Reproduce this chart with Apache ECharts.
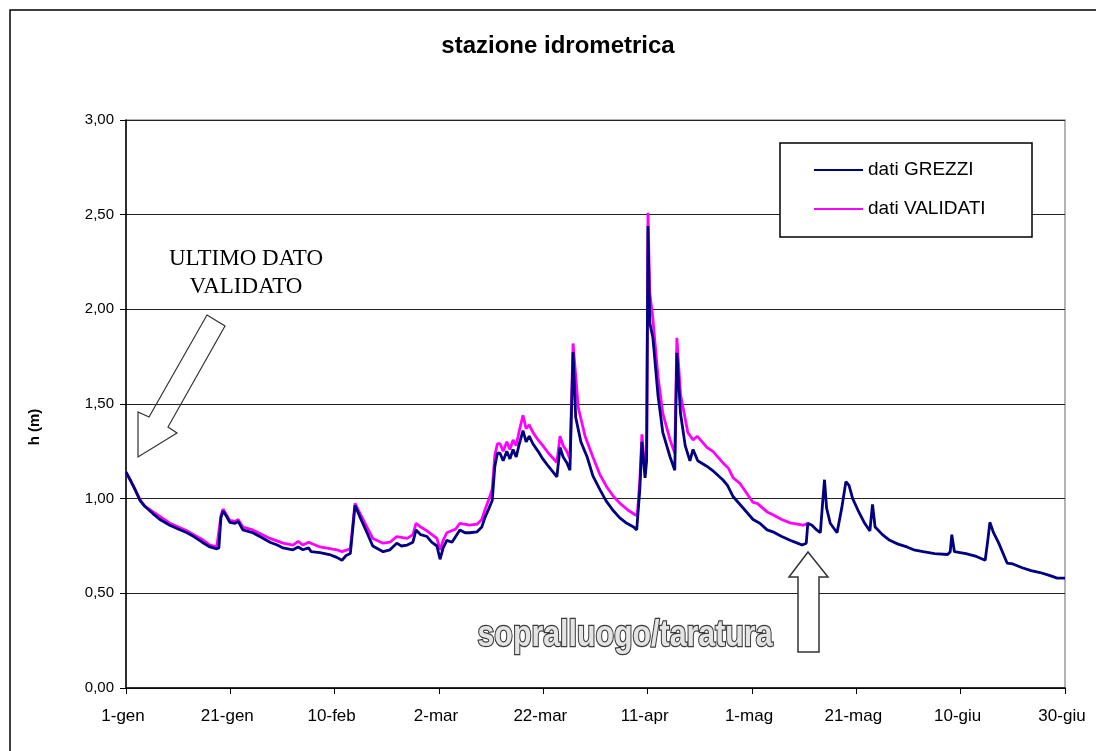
<!DOCTYPE html>
<html>
<head>
<meta charset="utf-8">
<script src="https://cdn.jsdelivr.net/npm/echarts@6/dist/echarts.min.js"></script>
<style>
html,body{margin:0;padding:0;background:#fff;}
#chart{width:1096px;height:751px;}
</style>
</head>
<body>
<div id="chart"></div>
<script>
// x: days since 1 January
var xTickLabels = ['1-gen','21-gen','10-feb','2-mar','22-mar','11-apr','1-mag','21-mag','10-giu','30-giu'];
var seriesNames = ['dati GREZZI','dati VALIDATI'];

var datiGrezzi = [
[0,1.14],[0.8,1.10],[1.7,1.05],[2.7,0.99],[3.6,0.96],[5.2,0.92],[6.5,0.89],[8.4,0.86],[10,0.84],[11.7,0.82],[13,0.80],[14.6,0.77],[16.1,0.745],[17.4,0.735],[17.8,0.74],[18.2,0.90],[18.6,0.935],[19.2,0.91],[19.9,0.875],[20.9,0.87],[21.5,0.88],[22.4,0.835],[24.3,0.82],[26,0.795],[27.6,0.77],[29,0.755],[30.1,0.74],[32,0.73],[33,0.745],[33.9,0.73],[35,0.74],[35.5,0.72],[37.2,0.715],[39,0.705],[40.4,0.69],[41.4,0.675],[42.2,0.70],[43,0.71],[43.5,0.85],[43.9,0.965],[44.9,0.90],[46.2,0.82],[47.3,0.75],[49.3,0.72],[50.6,0.73],[51.9,0.765],[52.8,0.75],[53.9,0.755],[55,0.77],[55.6,0.835],[56.5,0.81],[57.7,0.80],[58.6,0.77],[59.6,0.75],[60.2,0.68],[60.8,0.74],[61.5,0.78],[62.5,0.77],[63.2,0.80],[64,0.835],[65,0.82],[65.9,0.82],[67.3,0.825],[68.2,0.85],[68.8,0.90],[69.6,0.95],[70.2,0.99],[70.7,1.17],[71.2,1.24],[71.7,1.24],[72.3,1.20],[73,1.25],[73.6,1.21],[74.2,1.26],[74.8,1.22],[75.4,1.29],[76.1,1.36],[76.7,1.30],[77.3,1.33],[78,1.29],[79,1.25],[79.9,1.21],[81,1.17],[82.6,1.115],[83.2,1.27],[83.8,1.22],[84.5,1.19],[85.1,1.15],[85.7,1.775],[86.2,1.43],[87.2,1.30],[88.4,1.22],[89.5,1.12],[90.9,1.045],[92,0.99],[93.3,0.94],[94.6,0.90],[96,0.87],[97.3,0.85],[97.9,0.835],[98.5,1.05],[98.9,1.30],[99.5,1.11],[99.8,1.20],[100.06,2.44],[100.4,1.93],[101,1.85],[102,1.54],[102.9,1.35],[104.3,1.22],[105.2,1.15],[105.6,1.77],[106.3,1.45],[107.2,1.28],[108.1,1.20],[108.7,1.26],[109.6,1.20],[111.4,1.17],[112.4,1.15],[114.4,1.10],[115.3,1.07],[116.4,1.01],[118,0.96],[120.2,0.89],[121.5,0.87],[122.9,0.835],[124,0.825],[125.7,0.80],[127.3,0.78],[128.7,0.765],[129.6,0.755],[130.4,0.765],[130.7,0.87],[131.5,0.86],[132.4,0.835],[133.1,0.82],[133.6,1.00],[133.9,1.10],[134.3,0.95],[135,0.87],[136.3,0.82],[137.2,0.95],[138,1.09],[138.6,1.07],[139.3,1.00],[140.3,0.94],[141.6,0.87],[142.6,0.83],[143.1,0.97],[143.6,0.85],[145,0.81],[146.4,0.78],[148,0.76],[149.7,0.745],[151,0.73],[152.8,0.72],[155,0.71],[157.5,0.705],[158,0.72],[158.3,0.81],[158.8,0.72],[161,0.71],[163,0.695],[164.7,0.675],[165.2,0.78],[165.6,0.875],[166.3,0.82],[167.3,0.765],[168.9,0.66],[170,0.655],[171.8,0.635],[173.5,0.62],[175.2,0.61],[177,0.595],[178.5,0.58],[180,0.58]
];

var datiValidati = [
[0,1.14],[1.7,1.05],[2.7,0.995],[3.6,0.96],[5.2,0.93],[8.4,0.87],[11.7,0.83],[14.6,0.785],[16.1,0.755],[17.4,0.745],[18.2,0.91],[18.6,0.945],[19.9,0.885],[20.9,0.88],[21.5,0.89],[22.4,0.85],[24.3,0.835],[27.6,0.79],[30.1,0.765],[32,0.755],[33,0.775],[33.9,0.755],[35,0.77],[37.2,0.745],[40.4,0.73],[41.4,0.72],[43,0.735],[43.5,0.87],[43.9,0.975],[44.9,0.92],[46.2,0.85],[47.3,0.79],[49.3,0.765],[50.6,0.77],[51.9,0.80],[53.9,0.79],[55,0.81],[55.6,0.87],[56.5,0.85],[57.7,0.83],[59.6,0.79],[60.2,0.73],[60.8,0.78],[61.5,0.82],[63.2,0.84],[64,0.87],[65.9,0.86],[67.3,0.865],[68.2,0.89],[68.8,0.94],[69.6,1.00],[70.2,1.05],[70.7,1.23],[71.2,1.29],[71.7,1.29],[72.3,1.25],[73,1.30],[73.6,1.26],[74.2,1.31],[74.8,1.28],[75.4,1.36],[76.1,1.44],[76.7,1.37],[77.3,1.39],[78,1.35],[79,1.31],[79.9,1.28],[81,1.24],[82.6,1.19],[83.2,1.33],[83.8,1.28],[84.5,1.25],[85.1,1.21],[85.7,1.82],[86.7,1.48],[88,1.33],[89.5,1.22],[90.8,1.13],[92.2,1.06],[93.5,1.01],[94.7,0.975],[96.2,0.94],[97.6,0.915],[98,0.91],[98.5,1.10],[98.9,1.34],[99.5,1.14],[99.8,1.25],[100.06,2.51],[100.4,2.09],[101,1.95],[102,1.64],[102.9,1.45],[104.3,1.31],[105.2,1.24],[105.6,1.85],[106.3,1.55],[107.7,1.35],[108.7,1.31],[109.5,1.33],[111.4,1.27],[112.5,1.25],[114.4,1.19],[115.5,1.16],[116.4,1.11],[117.7,1.08],[120.2,0.98],[121,0.975],[122.9,0.93],[124,0.915],[125.7,0.89],[127.3,0.872],[129.8,0.86],[130.5,0.865],[130.7,0.875]
];

var chart = echarts.init(document.getElementById('chart'));
var sans = '"Liberation Sans",Arial,sans-serif';

chart.setOption({
  animation: false,
  backgroundColor: '#fff',
  title: {
    text: 'stazione idrometrica',
    left: 553, top: 29, textAlign: 'center',
    textStyle: {fontFamily: sans, fontWeight: 'bold', fontSize: 24, color: '#000'}
  },
  grid: {left: 126, top: 120, right: 31, bottom: 63, show: true, borderColor: '#9a9a9a', borderWidth: 1.5, backgroundColor: 'transparent'},
  legend: {
    data: seriesNames,
    orient: 'vertical',
    left: 814, top: 160, z: 20,
    itemWidth: 49, itemHeight: 2, itemGap: 19,
    icon: 'rect',
    padding: 0,
    textStyle: {fontFamily: sans, fontSize: 19, color: '#000', lineHeight: 20}
  },
  xAxis: {
    type: 'value', min: 0, max: 180, interval: 20,
    axisLine: {lineStyle: {color: '#000', width: 1.5}},
    axisTick: {show: true, length: 6, lineStyle: {color: '#000'}},
    splitLine: {show: false},
    axisLabel: {
      margin: 20, color: '#000', fontFamily: sans, fontSize: 17,
      padding: [0, 6, 0, 0],
      formatter: function (v) { return xTickLabels[Math.round(v / 20)]; }
    }
  },
  yAxis: {
    type: 'value', min: 0, max: 3, interval: 0.5,
    axisLine: {show: true, lineStyle: {color: '#000', width: 1.5}},
    axisTick: {show: true, length: 6, lineStyle: {color: '#000'}},
    splitLine: {show: true, lineStyle: {color: '#222', width: 1.2}},
    axisLabel: {
      margin: 12, color: '#000', fontFamily: sans, fontSize: 15,
      formatter: function (v) { return v.toFixed(2).replace('.', ','); }
    }
  },
  series: [
    {
      name: seriesNames[0], type: 'line', data: datiGrezzi, showSymbol: false, z: 4,
      lineStyle: {color: '#000080', width: 2.8}, itemStyle: {color: '#000080'}
    },
    {
      name: seriesNames[1], type: 'line', data: datiValidati, showSymbol: false, z: 3,
      lineStyle: {color: '#ff00ff', width: 2.8}, itemStyle: {color: '#ff00ff'}
    }
  ],
  graphic: [
    {type: 'rect', shape: {x: 10, y: 10, width: 1200, height: 900}, style: {fill: 'none', stroke: '#000', lineWidth: 1.5}, z: 0, silent: true},
    {type: 'rect', shape: {x: 780, y: 143, width: 252, height: 94}, style: {fill: '#fff', stroke: '#000', lineWidth: 1.5}, z: 10, silent: true},
    {type: 'text', x: 35, y: 427, rotation: Math.PI / 2,
      style: {text: 'h (m)', font: 'bold 15px ' + sans, fill: '#000', align: 'center', verticalAlign: 'middle'}, z: 10},
    {type: 'text', x: 246, y: 273,
      style: {text: 'ULTIMO DATO\nVALIDATO', font: '23px "Liberation Serif","Times New Roman",serif', lineHeight: 28, fill: '#000', align: 'center', verticalAlign: 'middle'}, z: 10},
    {type: 'polygon', shape: {points: [[207,315],[225,326],[168,427],[177,433],[138,457],[138,412],[149,417]]},
      style: {fill: 'none', stroke: '#333', lineWidth: 1.2}, z: 10},
    {type: 'polygon', shape: {points: [[808,552],[828,577],[819,577],[819,652],[798,652],[798,577],[789,577]]},
      style: {fill: '#fff', stroke: '#333', lineWidth: 1.5}, z: 10},
    {type: 'text', x: 625, y: 636, scaleX: 0.82,
      style: {text: 'sopralluogo/taratura', font: 'bold 37px ' + sans, fill: '#e4e4e4', stroke: '#3a3a3a', lineWidth: 2.5,
        align: 'center', verticalAlign: 'middle', shadowColor: 'rgba(0,0,0,0.45)', shadowBlur: 2, shadowOffsetX: 2, shadowOffsetY: 2}, z: 10}
  ]
});
</script>
</body>
</html>
